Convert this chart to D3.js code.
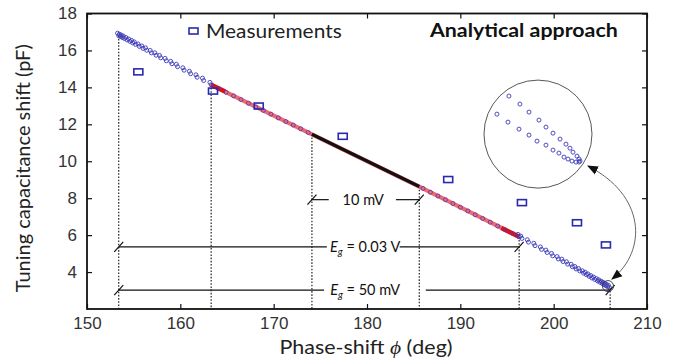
<!DOCTYPE html>
<html><head><meta charset="utf-8">
<script src="https://cdn.jsdelivr.net/npm/d3@7"></script>
<style>
html,body{margin:0;padding:0;background:#fff;}
svg{display:block;}
</style></head>
<body>
<svg id="chart" width="692" height="363"></svg>
<script>
// ---------- data ----------
const xTicks = [150, 160, 170, 180, 190, 200, 210];
const yTicks = [4, 6, 8, 10, 12, 14, 16, 18];

// Measurements (phase-shift deg, capacitance pF)
const measPhase = [155.5, 163.5, 168.4, 177.4, 188.7, 196.6, 202.5, 205.6];
const measCap   = [14.84, 13.80, 12.99, 11.35, 9.01, 7.76, 6.67, 5.47];

// Analytical approach: computed points (circles)
const anaPhase = [
  153.4,153.6,153.8,154.0,154.3,154.6,154.9,155.2,155.6,156.0,156.4,156.9,157.4,157.9,158.5,159.1,159.7,160.4,161.1,161.8,162.5,163.3,
  164.1,164.9,165.7,166.5,167.3,168.1,168.9,169.7,170.5,171.3,172.1,172.9,173.7,
  186.0,186.8,187.6,188.4,189.2,190.0,190.8,191.6,192.4,193.2,194.0,194.8,195.6,196.3,
  196.6,197.3,198.0,198.7,199.3,199.9,200.5,201.0,201.5,202.0,202.4,202.8,203.2,203.5,203.8,204.1,204.4,204.7,204.95,205.2,205.4,205.6,205.8,206.0
];
const anaCap = [
  16.80,16.75,16.70,16.65,16.57,16.49,16.41,16.33,16.22,16.11,16.01,15.87,15.74,15.60,15.44,15.28,15.12,14.93,14.74,14.55,14.37,14.14,
  13.93,13.73,13.54,13.34,13.14,12.94,12.75,12.55,12.35,12.15,11.96,11.76,11.56,
  8.53,8.32,8.12,7.92,7.71,7.51,7.31,7.10,6.90,6.70,6.49,6.29,6.09,5.91,
  5.82,5.62,5.43,5.23,5.06,4.88,4.71,4.57,4.43,4.29,4.17,4.06,3.94,3.86,3.77,3.68,3.60,3.52,3.45,3.38,3.32,3.26,3.20,3.15
];

// Operating range boundaries (red: 0.03 V range, black: 10 mV range)
const redPhase = [163.3, 174.1, 185.6, 196.3];
const redCap   = [14.14, 11.46, 8.63, 5.91];
const blackPhase = [174.1, 185.6];
const blackCap   = [11.46, 8.63];

// Dotted vertical markers (phase, capacitance on curve)
const markPhase = [153.4, 163.3, 174.1, 185.6, 196.3, 206.05];
const markCap   = [16.80, 14.14, 11.46, 8.63, 5.91, 3.15];

// Dimension annotations
const dimLabels = ["10 mV", "0.03 V", "50 mV"];
const dimFrom   = [174.1, 153.4, 153.4];
const dimTo     = [185.6, 196.3, 206.05];
const dimCap    = [7.92, 5.36, 3.02];
const dimGapL   = [175.9, 175.7, 175.4];
const dimGapR   = [183.1, 183.5, 186.3];
const dimTextX  = [179.6, 179.8, 179.8];

// Zoomed inset (inset units 0..100)
const insetLowX = [12,22.2,32.4,41.7,49.1,57.4,63.9,69.4,74.1,77.8,81.5,85.2,88];
const insetLowY = [31.5,38.9,45.4,50.9,56.5,60.2,64.8,67.6,71.3,73.1,75,75.9,75.9];
const insetUpX  = [23.1,33.3,41.7,50.9,57.4,63.9,70.4,75.9,79.6,82.4,86.1,88,88.9];
const insetUpY  = [14.8,22.2,29.6,37,43.5,49.1,54.6,59.3,63,66.7,70.4,73.1,75];
const insetCenter = [198.32, 11.47];   // phase, capacitance
const tipCenter   = [205.82, 3.24];
const arrowPts    = [[203.68, 9.74], [209.8, 8.17], [210.1, 5.19], [206.25, 3.62]];

// ---------- drawing ----------
const svg = d3.select("#chart");
const x = d3.scaleLinear().domain([150, 210]).range([87, 647]);
const y = d3.scaleLinear().domain([2, 18]).range([309, 13.5]);

const blue = "#3a3ab8";
const tickFont = "'Liberation Sans', Arial, sans-serif";
const textFont = "Lato, 'Open Sans', sans-serif";

// dotted verticals
svg.append("g").selectAll("line").data(markPhase).join("line")
  .attr("x1", d => x(d)).attr("x2", d => x(d))
  .attr("y1", (d, i) => y(markCap[i])).attr("y2", y(2))
  .attr("stroke", "#111").attr("stroke-width", 1.1).attr("stroke-dasharray", "1.6,1.6");

// red band line
const line = d3.line().x(d => x(d[0])).y(d => y(d[1]));
svg.append("path").datum(redPhase.map((p, i) => [p, redCap[i]]))
  .attr("d", line).attr("fill", "none").attr("stroke", "#ec5a60").attr("stroke-width", 4.2).attr("stroke-opacity", 0.9);
// thicker red at ends
svg.append("path").datum([[163.3, 14.14], [164.8, 13.78]]).attr("d", line)
  .attr("fill", "none").attr("stroke", "#e01010").attr("stroke-width", 4.5);
svg.append("path").datum([[194.4, 6.39], [196.3, 5.91]]).attr("d", line)
  .attr("fill", "none").attr("stroke", "#e01010").attr("stroke-width", 4.5);

// analytical circles (two close branches in the blue-only parts)
const ana = anaPhase.map((p, i) => [p, anaCap[i]]);
const inRed = d => d[0] > redPhase[0] + 0.05 && d[0] < redPhase[3] - 0.05;
const gA = svg.append("g");
gA.selectAll("circle.a").data(ana).join("circle").attr("class", "a")
  .attr("cx", d => x(d[0])).attr("cy", d => y(d[1])).attr("r", 2)
  .attr("fill", "none").attr("stroke", d => inRed(d) ? "#5a3ab0" : blue).attr("stroke-width", 0.9);
gA.selectAll("circle.b").data(ana.filter(d => !inRed(d))).join("circle").attr("class", "b")
  .attr("cx", d => x(d[0]) - 1.2).attr("cy", d => y(d[1]) - 2.4).attr("r", 2)
  .attr("fill", "none").attr("stroke", blue).attr("stroke-width", 0.9);

// black band line
svg.append("path").datum(blackPhase.map((p, i) => [p, blackCap[i]]))
  .attr("d", line).attr("fill", "none").attr("stroke", "#111").attr("stroke-width", 3.2);

// measurements
svg.append("g").selectAll("rect").data(measPhase).join("rect")
  .attr("x", d => x(d) - 4.5).attr("y", (d, i) => y(measCap[i]) - 3)
  .attr("width", 9).attr("height", 6)
  .attr("fill", "none").attr("stroke", "#2a2ab0").attr("stroke-width", 1.6);

// dimension annotations
const gD = svg.append("g");
dimLabels.forEach((lab, i) => {
  const yy = y(dimCap[i]);
  gD.append("line").attr("x1", x(dimFrom[i])).attr("x2", x(dimGapL[i])).attr("y1", yy).attr("y2", yy)
    .attr("stroke", "#111").attr("stroke-width", 1.2);
  gD.append("line").attr("x1", x(dimGapR[i])).attr("x2", x(dimTo[i])).attr("y1", yy).attr("y2", yy)
    .attr("stroke", "#111").attr("stroke-width", 1.2);
  [dimFrom[i], dimTo[i]].forEach(p => {
    gD.append("line").attr("x1", x(p) - 4.5).attr("x2", x(p) + 4.5)
      .attr("y1", yy + 5).attr("y2", yy - 5).attr("stroke", "#111").attr("stroke-width", 1.2);
  });
  const t = gD.append("text").attr("x", x(dimTextX[i])).attr("y", yy + 5)
    .attr("text-anchor", "middle").attr("font-family", textFont).attr("font-size", 14.5).attr("fill", "#111");
  if (i === 0) {
    t.text(lab);
  } else {
    t.append("tspan").attr("font-style", "italic").text("E");
    t.append("tspan").attr("font-style", "italic").attr("font-size", 10).attr("dy", 3).text("g");
    t.append("tspan").attr("dy", -3).text(" = " + lab);
  }
});

// inset circle
const icx = x(insetCenter[0]), icy = y(insetCenter[1]), ir = 54;
svg.append("circle").attr("cx", icx).attr("cy", icy).attr("r", ir)
  .attr("fill", "none").attr("stroke", "#444").attr("stroke-width", 0.9);
const ix = d3.scaleLinear().domain([0, 100]).range([icx - ir, icx + ir]);
const iy = d3.scaleLinear().domain([0, 100]).range([icy - ir, icy + ir]);
const gI = svg.append("g");
[[insetLowX, insetLowY], [insetUpX, insetUpY]].forEach(([xs, ys]) => {
  gI.selectAll(null).data(xs).join("circle")
    .attr("cx", d => ix(d)).attr("cy", (d, i) => iy(ys[i])).attr("r", 2)
    .attr("fill", "none").attr("stroke", blue).attr("stroke-width", 0.9);
});

// small circle at tip
svg.append("circle").attr("cx", x(tipCenter[0])).attr("cy", y(tipCenter[1])).attr("r", 5.5)
  .attr("fill", "none").attr("stroke", "#333").attr("stroke-width", 0.9);

// curved double arrow
const defs = svg.append("defs");
defs.append("marker").attr("id", "ah").attr("viewBox", "0 0 10 10").attr("refX", 9).attr("refY", 5)
  .attr("markerWidth", 11).attr("markerHeight", 11).attr("markerUnits", "userSpaceOnUse")
  .attr("orient", "auto-start-reverse")
  .append("path").attr("d", "M0,1 L10,5 L0,9 Z").attr("fill", "#111");
const ap = arrowPts.map(d => [x(d[0]), y(d[1])]);
svg.append("path")
  .attr("d", `M${ap[0][0]},${ap[0][1]} C${ap[1][0]},${ap[1][1]} ${ap[2][0]},${ap[2][1]} ${ap[3][0]},${ap[3][1]}`)
  .attr("fill", "none").attr("stroke", "#555").attr("stroke-width", 0.9)
  .attr("marker-start", "url(#ah)").attr("marker-end", "url(#ah)");

// axes
const styleAxis = g => {
  g.select(".domain").remove();
  g.selectAll(".tick line").attr("stroke", "#111").attr("stroke-width", 1.2);
  g.selectAll("text").attr("font-family", tickFont).attr("font-size", 17).attr("fill", "#333");
};
svg.append("g").attr("transform", `translate(0,${y(2)})`)
  .call(d3.axisBottom(x).tickValues(xTicks).tickSizeInner(-5).tickSizeOuter(0).tickPadding(8).tickFormat(d3.format("d")))
  .call(styleAxis);
svg.append("g").attr("transform", `translate(0,${y(18)})`)
  .call(d3.axisTop(x).tickValues(xTicks).tickSizeInner(-5).tickSizeOuter(0).tickFormat(""))
  .call(styleAxis);
svg.append("g").attr("transform", `translate(${x(150)},0)`)
  .call(d3.axisLeft(y).tickValues(yTicks).tickSizeInner(-5).tickSizeOuter(0).tickPadding(10).tickFormat(d3.format("d")))
  .call(styleAxis);
svg.append("g").attr("transform", `translate(${x(210)},0)`)
  .call(d3.axisRight(y).tickValues(yTicks).tickSizeInner(-5).tickSizeOuter(0).tickFormat(""))
  .call(styleAxis);
svg.append("rect").attr("x", x(150)).attr("y", y(18)).attr("width", x(210) - x(150)).attr("height", y(2) - y(18))
  .attr("fill", "none").attr("stroke", "#111").attr("stroke-width", 1.8);

// axis titles
svg.append("text").attr("transform", `translate(30,${(y(2) + y(18)) / 2 + 7}) rotate(-90)`)
  .attr("text-anchor", "middle").attr("font-family", textFont).attr("font-size", 20).attr("fill", "#222")
  .text("Tuning capacitance shift (pF)");
const xt = svg.append("text").attr("transform", "translate(366,354) scale(1.1,1)").attr("text-anchor", "middle")
  .attr("font-family", textFont).attr("font-size", 19.5).attr("fill", "#222");
xt.append("tspan").text("Phase-shift ");
xt.append("tspan").attr("font-family", "'Liberation Serif', 'DejaVu Serif', serif").attr("font-style", "italic").text("ϕ");
xt.append("tspan").text(" (deg)");

// legend & title
svg.append("rect").attr("x", 189).attr("y", 28).attr("width", 9).attr("height", 6)
  .attr("fill", "none").attr("stroke", "#2a2ab0").attr("stroke-width", 1.6);
svg.append("text").attr("transform", "translate(206,38) scale(1.1,1)").attr("font-family", textFont).attr("font-size", 19)
  .attr("fill", "#222").text("Measurements");
svg.append("text").attr("transform", "translate(430,37) scale(1.155,1)").attr("font-family", textFont).attr("font-size", 18.5)
  .attr("font-weight", "bold").attr("fill", "#111").text("Analytical approach");
</script>
</body></html>
